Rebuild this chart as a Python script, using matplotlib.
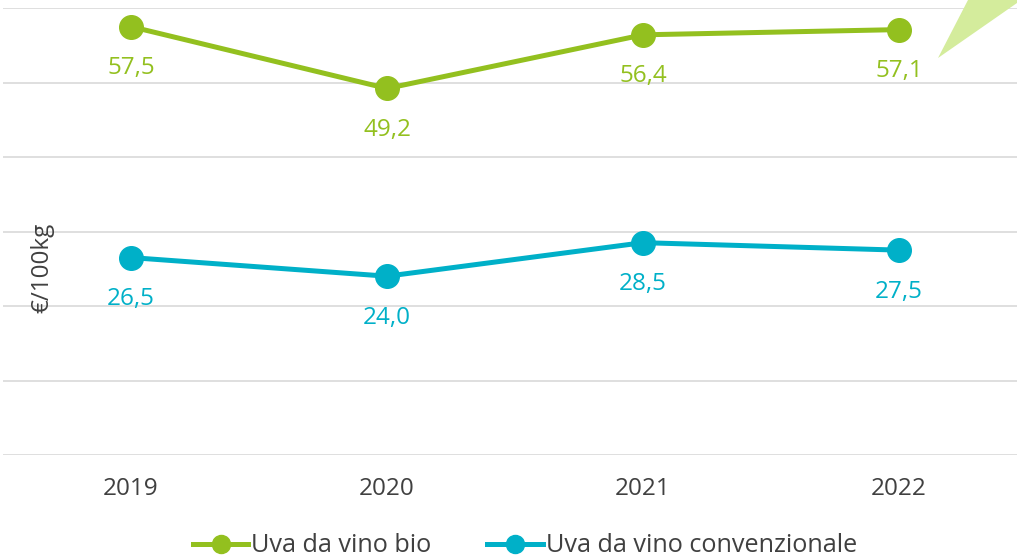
import matplotlib
matplotlib.use("Agg")
import matplotlib.pyplot as plt
from matplotlib.patches import Polygon
from matplotlib.lines import Line2D

plt.rcParams['font.family'] = ['Open Sans', 'DejaVu Sans']

years = ["2019", "2020", "2021", "2022"]
bio = [57.5, 49.2, 56.4, 57.1]
conv = [26.5, 24.0, 28.5, 27.5]
series_names = ["Uva da vino bio", "Uva da vino convenzionale"]
y_label = "€/100kg"

GREEN = "#93C01F"
CYAN = "#00B0C8"
TEXT = "#404040"
GRID = "#D9D9D9"

W, H = 1017, 558
fig = plt.figure(figsize=(W / 100, H / 100), dpi=100)
ax = fig.add_axes([3 / W, (H - 455) / H, 1024 / W, 447 / H])
ax.set_xlim(-0.5, 3.5)
ax.set_ylim(0, 60)

x = list(range(len(years)))
fs = 17.5
for vals, col in ((bio, GREEN), (conv, CYAN)):
    ax.plot(x, vals, color=col, lw=3.6, marker='o', ms=17, clip_on=False, zorder=3,
            solid_capstyle='round')
    for xi, v in zip(x, vals):
        ax.annotate(f"{v:.1f}".replace('.', ','), (xi, v), xytext=(0, -30),
                    textcoords='offset points', ha='center', va='center',
                    color=col, fontsize=fs)

ax.set_yticks(range(0, 61, 10))
ax.set_yticklabels([])
ax.tick_params(axis='y', length=0)
ax.grid(axis='y', color=GRID, lw=1.2)
ax.set_axisbelow(True)
ax.set_xticks(x)
ax.set_xticklabels(years, color=TEXT, fontsize=fs)
ax.tick_params(axis='x', length=0, pad=16)
for s in ax.spines.values():
    s.set_visible(False)

ax.set_ylabel(y_label, color=TEXT, fontsize=fs)
ax.yaxis.set_label_coords(51 / 1024, (455 - 268) / 447)

# decorative triangle (figure pixel coords)
tri = Polygon([(938 / W, 1 - 58 / H), (968 / W, 1.0), (1017 / W, 1.0), (1017 / W, 1 - 3 / H)],
              closed=True, transform=fig.transFigure, facecolor="#D4EC9C", edgecolor='none',
              zorder=5)
fig.patches.append(tri)

handles = [Line2D([], [], color=GREEN, lw=3.6, marker='o', ms=13),
           Line2D([], [], color=CYAN, lw=3.6, marker='o', ms=13)]
lfs = 18.2
leg = fig.legend(handles, series_names, loc='center', bbox_to_anchor=(525 / W, 1 - 546 / H),
                 ncol=2, frameon=False, fontsize=lfs, handlelength=2.2, handletextpad=0.12,
                 columnspacing=2.2, borderaxespad=0, borderpad=0)
for t in leg.get_texts():
    t.set_color(TEXT)

fig.savefig("out.png", dpi=100)
